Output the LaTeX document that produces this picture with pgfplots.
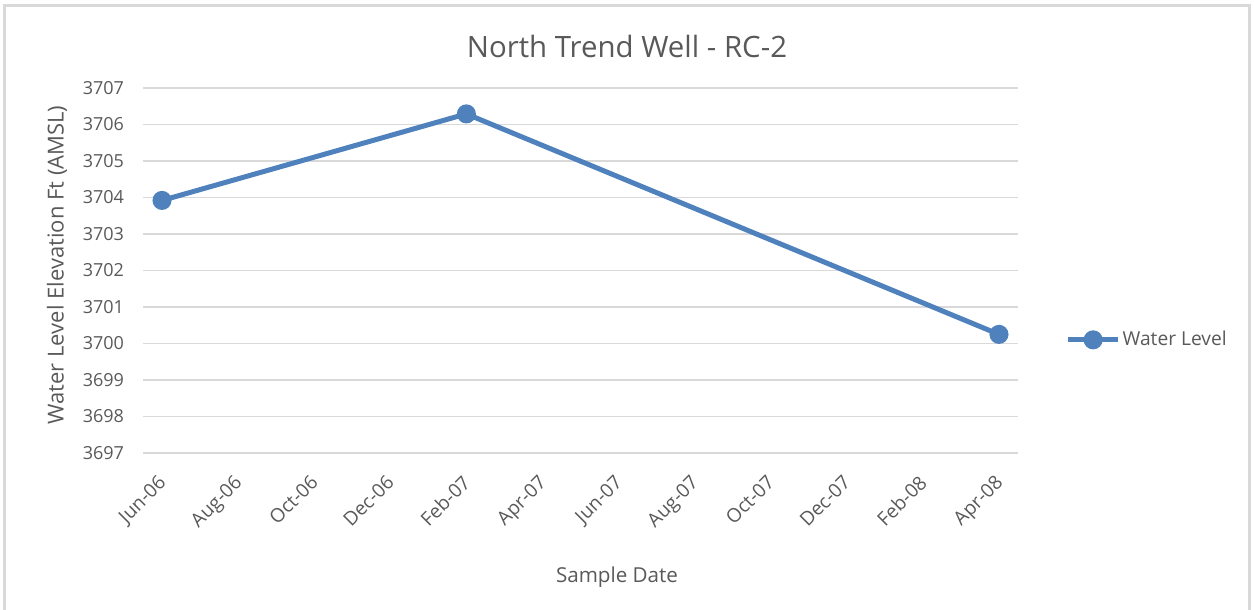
\documentclass[border=0pt]{standalone}
\usepackage{pgfplots}
\pgfplotsset{compat=1.18}
\usepackage{fontspec}
\setmainfont{Open Sans}
\definecolor{txt}{HTML}{595959}
\definecolor{gridc}{HTML}{D9D9D9}
\definecolor{ser}{HTML}{4F81BD}
\begin{document}
\begin{tikzpicture}
\begin{scope}[x=0.5pt,y=0.5pt]
\useasboundingbox (0,0) rectangle (1254,610);
\draw[gridc,line width=1.5pt] (4,-5) -- (4,604) -- (1249,604) -- (1249,-5);
\node[txt,font=\fontsize{14.7}{16}\selectfont] at (627,564) {North Trend Well - RC-2};
\node[txt,font=\fontsize{11}{13}\selectfont,rotate=90] at (57,345) {Water Level Elevation Ft (AMSL)};
\node[txt,font=\fontsize{10.3}{12}\selectfont] at (617,33) {Sample Date};
\end{scope}
\begin{axis}[
  at={(71.5pt,78.5pt)}, anchor=south west,
  scale only axis, width=437.5pt, height=182.5pt,
  xmin=-0.5, xmax=22.5, ymin=3697, ymax=3707,
  axis line style={draw=none},
  major tick length=0pt,
  ymajorgrids=true, xmajorgrids=false,
  major grid style={gridc,line width=0.75pt},
  ytick={3697,3698,...,3707},
  xtick={0,2,...,22},
  xticklabels={Jun-06,Aug-06,Oct-06,Dec-06,Feb-07,Apr-07,Jun-07,Aug-07,Oct-07,Dec-07,Feb-08,Apr-08},
  /pgf/number format/assume math mode=true,
  yticklabel={\pgfmathprintnumber[fixed,precision=0,1000 sep={}]{\tick}},
  ticklabel style={txt,font=\fontsize{9}{11}\selectfont},
  yticklabel style={xshift=-6pt},
  xticklabel style={font=\fontsize{9.6}{11}\selectfont,yshift=-5.5pt,xshift=-2.5pt,rotate=45,anchor=north east},
  legend style={at={(1.054,0.31)},anchor=west,draw=none,fill=none,
    font=\fontsize{9.6}{12}\selectfont,text=txt,inner sep=0pt,
    nodes={inner xsep=1pt},
    /tikz/every odd column/.append style={column sep=0pt}},
  legend cell align=left,
  legend image code/.code={\draw[#1,mark repeat=2,mark phase=2] plot coordinates {(0pt,0pt) (12.5pt,0pt) (25pt,0pt)};},
  clip=false,
]
\addplot[ser,line width=2.5pt,mark=*,mark size=3.5pt,mark options={solid}] coordinates {
(0,3703.92) (8,3706.29) (22,3700.25)
};
\addlegendentry{Water Level}
\end{axis}
\end{tikzpicture}
\end{document}
